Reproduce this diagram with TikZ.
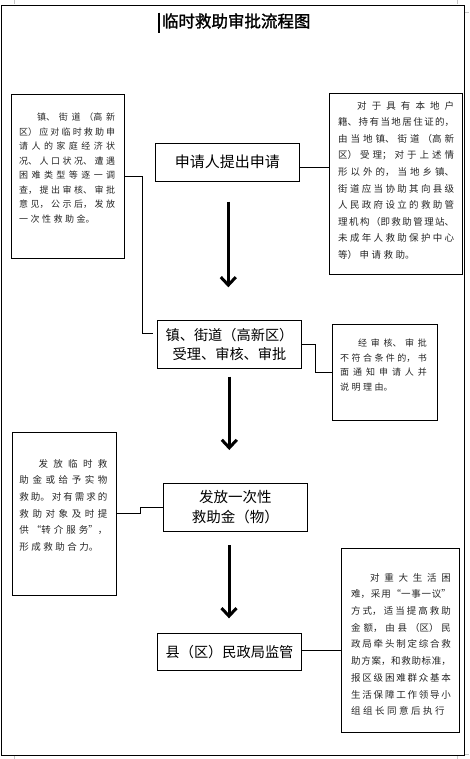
\documentclass[tikz,border=0pt]{standalone}
\usepackage{fontspec}
\newfontfamily\cjk{Noto Sans CJK SC}
\newfontfamily\cjkbold[FakeBold=1.5]{Noto Sans CJK SC}
\usetikzlibrary{arrows.meta,calc}
\setlength\parindent{0pt}
\newcommand\cjkpar{\XeTeXlinebreaklocale "zh"\XeTeXlinebreakskip=2.5pt plus 1fil minus 2.5pt\relax\linepenalty=5000\relax\parindent=0pt\parfillskip=0pt plus 1fill\relax\hspace*{2em}}
\tikzset{
  frame/.style={draw, line width=1.2pt},
  notebox/.style={draw, line width=0.9pt, rectangle, inner sep=0pt, anchor=north west},
  mainbox/.style={draw, line width=0.9pt, rectangle, inner sep=0pt, align=center},
  note/.style={inner sep=0pt, anchor=north west, align=justify, text=black!85},
  link/.style={line width=0.9pt},
  bigarrow/.style={line width=3pt, -{Straight Barb[length=8pt,width=15pt]}},
  marks/.style={draw=gray!45, line width=0.6pt}
}
\begin{document}
\begin{tikzpicture}[x=1pt,y=-1pt]
\useasboundingbox (0,0) rectangle (469,759);
% page marks
\draw[marks] (14.5,0) -- (14.5,4.5) (457.5,0) -- (457.5,4.5);
\draw[marks] (14.5,755.5) -- (14.5,759) (457.5,755.5) -- (457.5,759);
\draw[marks] (464.5,12) -- (469,12) (464.5,754) -- (469,754);
% outer frame
\node[frame, rectangle, inner sep=0pt, minimum width=463pt, minimum height=750pt, anchor=north west] (outer) at (1,5) {};
% title
\draw[line width=2pt] (159,12.7) -- (159,32.7);
\node[font=\cjkbold\fontsize{16.5}{18}\selectfont, inner sep=0pt] (title) at (236.2,21) {临时救助审批流程图};

% main boxes
\node[mainbox, minimum width=144pt, minimum height=37.7pt, font=\cjk\fontsize{15}{19.5}\selectfont] (box1) at (227.3,162.2) {申请人提出申请};
\node[mainbox, minimum width=144.4pt, minimum height=47.6pt, font=\cjk\fontsize{14.2}{19.7}\selectfont] (box2) at (229.5,344.5) {镇、街道（高新区）\\受理、审核、审批};
\node[mainbox, minimum width=144pt, minimum height=47.7pt, font=\cjk\fontsize{14.5}{19.4}\selectfont] (box3) at (235.3,507.2) {发放一次性\\救助金（物）};
\node[mainbox, minimum width=144.4pt, minimum height=36.7pt, font=\cjk\fontsize{14.2}{19}\selectfont] (box4) at (229.5,651.7) {县（区）民政局监管};

% note boxes
\node[notebox, minimum width=113.3pt, minimum height=164pt] (boxA) at (11,94) {};
\node[note, text width=96pt, font=\cjk\fontsize{9}{14.5}\selectfont] (textA) at (19,113) {\cjkpar 镇、街道（高新\linebreak 区）应对临时救助申\linebreak 请人的家庭经济状\linebreak 况、人口状况、遭遇\linebreak 困难类型等逐一调\linebreak 查，提出审核、审批\linebreak 意见，公示后，发放\linebreak 一次性救助金。\par};

\node[notebox, minimum width=132.5pt, minimum height=181pt] (boxB) at (329,93) {};
\node[note, text width=116pt, font=\cjk\fontsize{9.5}{16.6}\selectfont] (textB) at (338,100.8) {\cjkpar 对于具有本地户\linebreak 籍、持有当地居住证的，\linebreak 由当地镇、街道（高新\linebreak 区）受理；对于上述情\linebreak 形以外的，当地乡镇、\linebreak 街道应当协助其向县级\linebreak 人民政府设立的救助管\linebreak 理机构（即救助管理站、\linebreak 未成年人救助保护中心\linebreak 等）申请救助。\par};

\node[notebox, minimum width=105pt, minimum height=95.7pt] (boxC) at (331.7,324.3) {};
\node[note, text width=86.7pt, font=\cjk\fontsize{9}{14.5}\selectfont] (textC) at (340,338.7) {\cjkpar 经审核、审批\linebreak 不符合条件的，书\linebreak 面通知申请人并\linebreak 说明理由。\par};

\node[notebox, minimum width=104.6pt, minimum height=163.3pt] (boxD) at (11.7,431.7) {};
\node[note, text width=88pt, font=\cjk\fontsize{9.5}{16.6}\selectfont] (textD) at (19.3,459) {\cjkpar 发放临时救\linebreak 助金或给予实物\linebreak 救助。对有需求的\linebreak 救助对象及时提\linebreak 供“转介服务”，\linebreak 形成救助合力。\par};

\node[notebox, minimum width=118pt, minimum height=184pt] (boxE) at (341.3,548.3) {};
\node[note, text width=99.7pt, font=\cjk\fontsize{9.5}{16.7}\selectfont] (textE) at (351,573) {\cjkpar 对重大生活困\linebreak 难，采用“一事一议”\linebreak 方式，适当提高救助\linebreak 金额，由县（区）民\linebreak 政局牵头制定综合救\linebreak 助方案，和救助标准，\linebreak 报区级困难群众基本\linebreak 生活保障工作领导小\linebreak 组组长同意后执行\par};

% connectors
\draw[link] ([yshift=-5pt]box1.east) -- ([yshift=-5pt]box1.east -| boxB.west);
\coordinate (c2end) at (152.7,333.3);
\draw[link] (boxA.east) -- ++(17.7,0) |- (c2end);
\draw[link] (box2.east) -- ++(13.3,0) |- (boxC.west);
\draw[link] (boxD.east) -- ++(23,0) |- (box3.west);
\draw[link] ([yshift=1pt]box4.east) -- ([yshift=1pt]box4.east -| boxE.west);

% big arrows
\coordinate (a1s) at (228.3,201.7);
\coordinate (a1e) at (228.3,287.3);
\coordinate (a2s) at (229.3,376.7);
\coordinate (a2e) at (229.3,450);
\coordinate (a3s) at (229,545);
\coordinate (a3e) at (229,618.3);
\draw[bigarrow] (a1s) -- (a1e);
\draw[bigarrow] (a2s) -- (a2e);
\draw[bigarrow] (a3s) -- (a3e);
\end{tikzpicture}
\end{document}
